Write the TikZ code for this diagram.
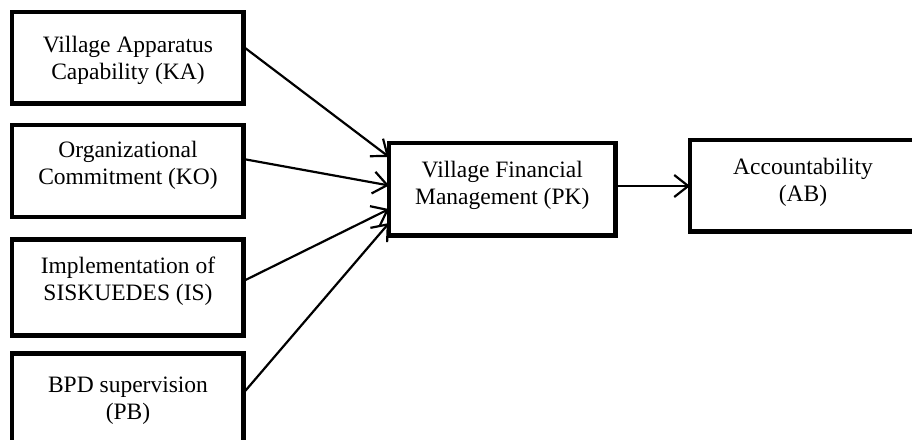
\documentclass[tikz,border=0pt]{standalone}
\usepackage{fontspec}
\setmainfont{Liberation Serif}
\usetikzlibrary{arrows.meta,calc}
\begin{document}
\begin{tikzpicture}[x=1pt,y=-1pt,
  box/.style={draw=black,line width=4.5pt,fill=white,rectangle,inner sep=0pt,outer sep=0pt},
  lbl/.style={align=center,inner sep=0pt,font=\fontsize{23.5}{27}\selectfont},
  arr/.style={draw=black,line width=2.2pt,-{Straight Barb[length=14pt,width=22pt]}}]
\clip (0,0) rectangle (912,439);
\fill[white] (0,0) rectangle (912,439);
% boxes
\node[box,minimum width=231.5pt,minimum height=91.5pt] (ka) at (127.75,57.75) {};
\node[box,minimum width=231.5pt,minimum height=92pt] (ko) at (127.75,171) {};
\node[box,minimum width=231.5pt,minimum height=96pt] (is) at (127.75,287.5) {};
\node[box,minimum width=231.5pt,minimum height=93.5pt] (pb) at (127.75,400.25) {};
\node[box,minimum width=226.5pt,minimum height=92.5pt] (pk) at (502.25,189.25) {};
\node[box,minimum width=230pt,minimum height=91.5pt] (ab) at (805,185.75) {};
% texts
\node[lbl] (tka) at (128,60.6) {Village Apparatus\\Capability (KA)};
\node[lbl] (tko) at (128,165.6) {Organizational\\Commitment (KO)};
\node[lbl] (tis) at (128,281) {Implementation of\\SISKUEDES (IS)};
\node[lbl] (tpb) at (128,400.6) {BPD supervision\\(PB)};
\node[lbl] (tpk) at (502.25,185.6) {Village Financial\\Management (PK)};
\node[lbl] (tab) at (803,182.6) {Accountability\\(AB)};
% connectors
\draw[arr] ($(ka.north east)!0.38!(ka.south east)$) -- ($(pk.north west)!0.151!(pk.south west)$);
\draw[arr] ($(ko.north east)!0.37!(ko.south east)$) -- ($(pk.north west)!0.459!(pk.south west)$);
\draw[arr] ($(is.north east)!0.432!(is.south east)$) -- ($(pk.north west)!0.714!(pk.south west)$);
\draw[arr] ($(pb.north east)!0.422!(pb.south east)$) -- ($(pk.north west)!0.865!(pk.south west)$);
\coordinate (pkout) at ($(pk.north east)!0.465!(pk.south east)$);
\draw[arr] (pkout) -- (ab.west |- pkout);
\end{tikzpicture}
\end{document}
